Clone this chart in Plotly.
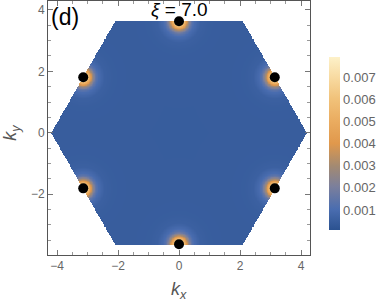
import numpy as np
import plotly.graph_objects as go

# corners of the hexagonal zone
HEX_X = [4.19, 2.09, -2.09, -4.19, -2.09, 2.09]
HEX_Y = [0.0, 3.63, 3.63, 0.0, -3.63, -3.63]

# black dots (edge midpoints)
DOT_X = [0.0, 3.14, 3.14, 0.0, -3.14, -3.14]
DOT_Y = [3.63, 1.81, -1.81, -3.63, -1.81, 1.81]

# value vs distance from nearest dot
PROFILE_R = [0.0, 0.1, 0.2, 0.25, 0.3, 0.4, 0.5, 0.7, 1.0, 5.0]
PROFILE_Z = [0.0079, 0.0071, 0.0052, 0.0041, 0.0030, 0.0016, 0.0010, 0.0006, 0.0005, 0.00045]

CB_TICKS = [0.001, 0.002, 0.003, 0.004, 0.005, 0.006, 0.007]

colorscale = [
    [0.0, "#2b5290"],
    [0.12, "#4a6db0"],
    [0.25, "#7b7f9c"],
    [0.37, "#a38a72"],
    [0.5, "#e0984c"],
    [0.63, "#eaac60"],
    [0.76, "#f1c27a"],
    [0.885, "#f8dba2"],
    [1.0, "#fdf1c9"],
]

gx = np.linspace(-4.3, 4.3, 430)
gy = np.linspace(-4.0, 4.3, 415)
X, Y = np.meshgrid(gx, gy)

# inside test for the hexagon
inside = (np.abs(Y) <= HEX_Y[1]) & (np.abs(Y) <= np.sqrt(3) * (HEX_X[0] - np.abs(X)))

d = np.full(X.shape, np.inf)
for px, py in zip(DOT_X, DOT_Y):
    d = np.minimum(d, np.hypot(X - px, Y - py))
Z = np.interp(d, PROFILE_R, PROFILE_Z)
Z = np.where(inside, Z, np.nan)

fig = go.Figure()
fig.add_trace(go.Heatmap(
    x=gx, y=gy, z=Z, zmin=0.0001, zmax=0.0079,
    colorscale=colorscale, hoverinfo="skip",
    colorbar=dict(
        x=1 + (329 - 310) / 262, xanchor="left",
        y=(255 - 230) / 254, yanchor="bottom",
        lenmode="pixels", len=173, thickness=11,
        outlinewidth=0, ticks="", tickvals=CB_TICKS,
        tickformat=".3f", xpad=0, ypad=0,
        tickfont=dict(family="Liberation Sans", size=13, color="#666666"),
    ),
))
fig.add_trace(go.Scatter(
    x=DOT_X, y=DOT_Y, mode="markers",
    marker=dict(size=10, color="black"), hoverinfo="skip", showlegend=False,
))

axis_common = dict(
    showgrid=False, zeroline=False, showline=True, linecolor="#555555",
    linewidth=1, mirror="ticks", ticks="inside", ticklen=5, tickcolor="#777777",
    tickfont=dict(family="Liberation Sans", size=12, color="#666666"),
    tickvals=[-4, -2, 0, 2, 4],
    minor=dict(dtick=0.5, ticks="inside", ticklen=3, tickcolor="#999999", showgrid=False),
)

fig.update_layout(
    width=390, height=302,
    margin=dict(l=48, r=80, t=1, b=47, autoexpand=False),
    paper_bgcolor="white", plot_bgcolor="white",
    showlegend=False,
    xaxis=dict(range=[-4.295, 4.295], **axis_common),
    yaxis=dict(range=[-3.98, 4.29], **axis_common),
    annotations=[
        dict(text="(d)", xref="paper", yref="paper", x=0.0, y=1.0,
             xanchor="left", yanchor="top", showarrow=False, xshift=1, yshift=-1,
             font=dict(family="Liberation Sans", size=23, color="black")),
        dict(text="<i>ξ</i> = 7.0", x=0, y=3.65, xref="x", yref="y",
             xanchor="center", yanchor="bottom", showarrow=False, yshift=-1,
             font=dict(family="Liberation Sans", size=19, color="black")),
        dict(text="<i>k</i><sub><i>x</i></sub>", x=0, xref="x", y=-0.07, yref="paper",
             xanchor="center", yanchor="top", showarrow=False, yshift=-4,
             font=dict(family="Liberation Sans", size=18, color="#555555")),
        dict(text="<i>k</i><sub><i>y</i></sub>", y=0, yref="y", x=0, xref="paper",
             xanchor="center", yanchor="middle", showarrow=False, xshift=-36, textangle=-90,
             font=dict(family="Liberation Sans", size=18, color="#555555")),
    ],
)

fig.write_html("out.html", config={"displayModeBar": False},
               post_script="document.body.style.margin='0';")
